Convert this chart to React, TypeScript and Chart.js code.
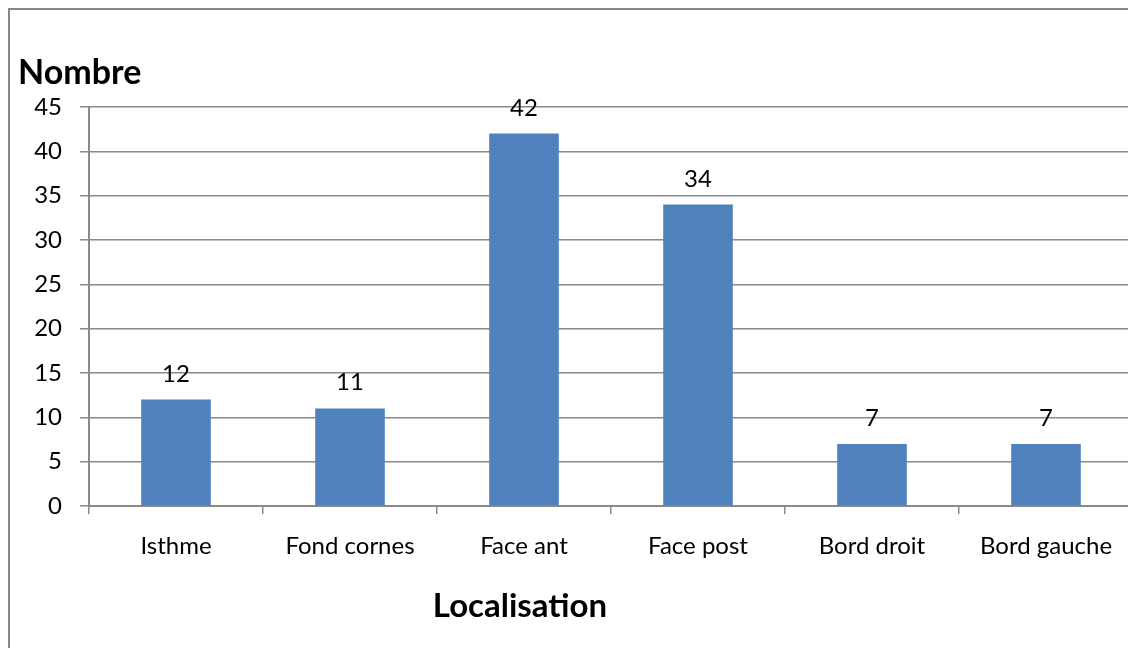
import React, { useEffect, useRef } from "react";
import { Chart, registerables } from "chart.js";

Chart.register(...registerables);

const categories = ["Isthme", "Fond cornes", "Face ant", "Face post", "Bord droit", "Bord gauche"];
const counts = [12, 11, 42, 34, 7, 7];
const yTicks = [0, 5, 10, 15, 20, 25, 30, 35, 40, 45];
const yTitle = "Nombre";
const xTitle = "Localisation";

const FONT = "Lato, 'Liberation Sans', sans-serif";
const GRID = "#8a8a8a";
const BAR = "#4f81bd";

// Value labels above each bar plus the two free-standing axis titles.
const annotate = {
  id: "annotate",
  afterDatasetsDraw(chart: any) {
    const { ctx, chartArea } = chart;
    ctx.save();
    ctx.fillStyle = "#000";
    ctx.textAlign = "center";
    ctx.textBaseline = "alphabetic";
    ctx.font = `24px ${FONT}`;
    const meta = chart.getDatasetMeta(0);
    meta.data.forEach((bar: any, i: number) => {
      ctx.fillText(String(counts[i]), bar.x, bar.y - 18);
    });
    ctx.font = `bold 34px ${FONT}`;
    ctx.textAlign = "left";
    ctx.fillText(yTitle, 8, chartArea.top - 23);
    ctx.font = `bold 33px ${FONT}`;
    ctx.textAlign = "center";
    ctx.fillText(xTitle, chartArea.left + 431, chartArea.bottom + 111);
    ctx.restore();
  },
};

export default function App() {
  const ref = useRef<HTMLCanvasElement | null>(null);

  useEffect(() => {
    document.body.style.overflow = "hidden";
    if (!ref.current) return;
    const chart = new Chart(ref.current, {
      type: "bar",
      data: {
        labels: categories,
        datasets: [
          {
            data: counts,
            backgroundColor: BAR,
            borderWidth: 0,
            barPercentage: 0.4,
            categoryPercentage: 1,
          },
        ],
      },
      options: {
        animation: false,
        responsive: false,
        maintainAspectRatio: false,
        layout: { padding: { left: 0, top: 97, right: 17, bottom: 0 } },
        plugins: {
          legend: { display: false },
          tooltip: { enabled: false },
          title: { display: false },
        },
        scales: {
          x: {
            offset: true,
            grid: {
              offset: true,
              drawOnChartArea: false,
              drawTicks: true,
              tickLength: 8,
              color: GRID,
              lineWidth: 1.5,
            },
            border: { display: true, color: GRID, width: 2 },
            ticks: {
              color: "#000",
              font: { family: FONT, size: 24 },
              padding: 18,
              maxRotation: 0,
              autoSkip: false,
            },
            afterFit(scale: any) {
              scale.height = 164;
            },
          },
          y: {
            min: 0,
            max: 45,
            afterBuildTicks(scale: any) {
              scale.ticks = yTicks.map((v) => ({ value: v }));
            },
            grid: {
              color: GRID,
              lineWidth: 1.5,
              tickLength: 9,
              drawTicks: true,
            },
            border: { display: true, color: GRID, width: 2 },
            ticks: {
              color: "#000",
              font: { family: FONT, size: 24 },
              padding: 18,
            },
            afterFit(scale: any) {
              scale.width = 79;
            },
          },
        },
      },
      plugins: [annotate],
    });
    return () => chart.destroy();
  }, []);

  return (
    <div
      style={{
        position: "fixed",
        left: 8,
        top: 8,
        width: 1120,
        height: 640,
        overflow: "hidden",
        background: "#fff",
      }}
    >
      <div
        style={{
          borderLeft: "2px solid #878787",
          borderTop: "2px solid #878787",
          width: 1160,
          height: 680,
        }}
      >
        <canvas ref={ref} width={1140} height={660} style={{ display: "block" }} />
      </div>
    </div>
  );
}
